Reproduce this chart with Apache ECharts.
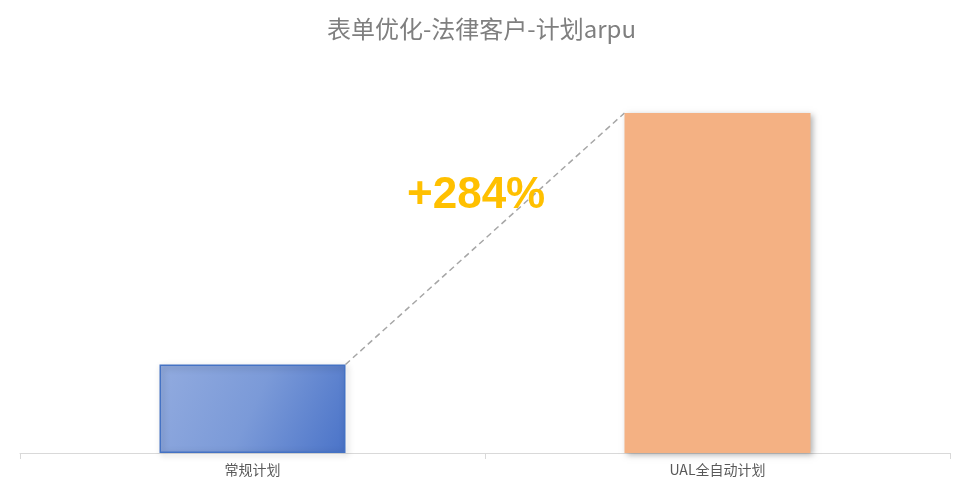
<!DOCTYPE html>
<html><head><meta charset="utf-8">
<script src="https://cdn.jsdelivr.net/npm/echarts@6/dist/echarts.min.js"></script>
<style>html,body{margin:0;padding:0;background:#fff}#c{width:963px;height:497px}</style>
</head><body><div id="c"></div>
<script>
const categories = ['常规计划', 'UAL全自动计划'];
const values = [100, 384];
const growthLabel = '+284%';

const chart = echarts.init(document.getElementById('c'));
chart.setOption({
  animation: false,
  title: { text: '表单优化-法律客户-计划arpu', left: 'center', top: 12,
    textStyle: { color: '#7f7f7f', fontSize: 24, fontWeight: 'normal', fontFamily: 'Noto Sans CJK SC' } },
  grid: { left: 20, right: 13, top: 113, bottom: 44 },
  xAxis: { type: 'category', data: categories,
    axisLine: { lineStyle: { color: '#d9d9d9' } },
    axisTick: { show: true, lineStyle: { color: '#d9d9d9' }, length: 6 },
    axisLabel: { color: '#595959', fontSize: 14, margin: 10, fontFamily: 'Noto Sans CJK SC' } },
  yAxis: { type: 'value', min: 0, max: 384, show: false, splitLine: { show: false } },
  series: [{
    type: 'bar', barWidth: '40%',
    data: [
      { value: values[0], itemStyle: {
        color: new echarts.graphic.LinearGradient(0, 0, 1, 1, [
          { offset: 0, color: '#92abdf' }, { offset: 0.5, color: '#7b9ad8' }, { offset: 1, color: '#4a73c8' }]),
        borderColor: '#4472c4', borderWidth: 1.5,
        shadowColor: 'rgba(0,0,0,0.3)', shadowBlur: 6, shadowOffsetX: 2, shadowOffsetY: 2 } },
      { value: values[1], itemStyle: { color: '#f4b183',
        shadowColor: 'rgba(0,0,0,0.3)', shadowBlur: 6, shadowOffsetX: 2, shadowOffsetY: 2 } }
    ]
  }]
});

function drawOverlay() {
  const p1 = chart.convertToPixel({ seriesIndex: 0 }, [0, values[0]]);
  const p2 = chart.convertToPixel({ seriesIndex: 0 }, [1, values[1]]);
  const bw = (p2[0] - p1[0]) * 0.4 / 2;
  const x1 = p1[0] + bw, x2 = p2[0] - bw;
  chart.setOption({ graphic: [
    { type: 'line', shape: { x1: x1, y1: p1[1], x2: x2, y2: p2[1] },
      style: { stroke: '#a6a6a6', lineWidth: 1.5, lineDash: [6, 4] }, z: 1 },
    { type: 'text', x: (x1 + x2) / 2 - 78, y: 174,
      style: { text: growthLabel, fill: '#ffc000', font: 'bold 44px "Liberation Sans", Arial',
        shadowColor: 'rgba(0,0,0,0.35)', shadowBlur: 3, shadowOffsetX: 1, shadowOffsetY: 1 }, z: 10 }
  ] });
}
drawOverlay();
</script></body></html>
